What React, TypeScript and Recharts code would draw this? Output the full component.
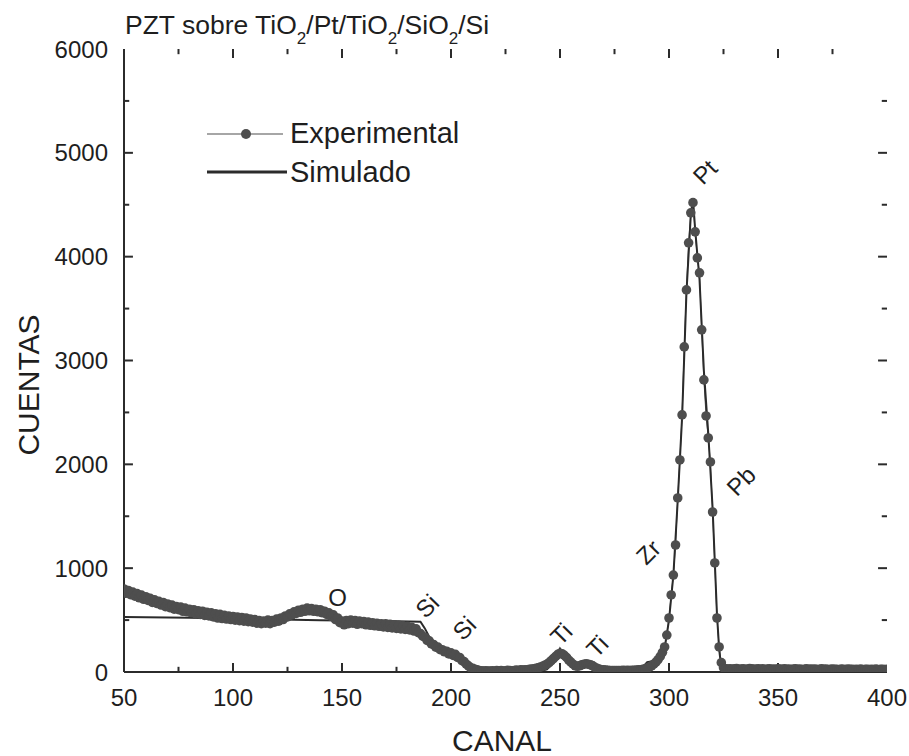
import { LineChart, Line, XAxis, YAxis, ReferenceDot, ReferenceLine } from 'recharts';

// Espectro RBS: PZT sobre TiO2/Pt/TiO2/SiO2/Si
const FIRST_CANAL = 50;

// cuentas experimentales, un valor por canal (50..400)
const expCuentas = [
  800, 760, 785, 745, 770, 730, 755, 715, 740, 700, // 50
  725, 690, 710, 670, 695, 660, 680, 645, 670, 630, // 60
  655, 620, 645, 605, 630, 600, 625, 585, 615, 580, // 70
  605, 570, 600, 560, 590, 555, 585, 545, 575, 540, // 80
  570, 530, 560, 520, 555, 515, 545, 510, 540, 505, // 90
  535, 500, 530, 495, 525, 490, 520, 485, 510, 480, // 100
  505, 470, 495, 465, 490, 470, 500, 465, 495, 480, // 110
  510, 490, 520, 505, 540, 530, 560, 550, 580, 565, // 120
  595, 575, 605, 585, 615, 590, 610, 585, 605, 580, // 130
  600, 570, 585, 555, 570, 535, 550, 505, 520, 475, // 140
  490, 455, 495, 465, 500, 470, 495, 460, 490, 465, // 150
  485, 455, 480, 450, 475, 445, 470, 440, 465, 435, // 160
  465, 430, 460, 425, 455, 420, 450, 415, 445, 410, // 170
  440, 405, 430, 395, 415, 380, 370, 345, 335, 305, // 180
  300, 270, 265, 240, 240, 215, 215, 195, 200, 175, // 190
  185, 160, 170, 140, 140, 110, 100, 75, 60, 40, // 200
  35, 25, 20, 15, 12, 10, 12, 8, 10, 12, // 210
  10, 14, 12, 15, 10, 12, 16, 14, 12, 15, // 220
  18, 15, 20, 18, 22, 20, 25, 28, 30, 35, // 230
  40, 48, 55, 65, 75, 90, 110, 130, 150, 170, // 240
  180, 175, 160, 140, 115, 95, 75, 60, 55, 60, // 250
  70, 75, 80, 75, 70, 60, 45, 35, 28, 22, // 260
  20, 18, 16, 15, 15, 14, 15, 14, 15, 16, // 270
  15, 16, 15, 17, 16, 18, 20, 22, 25, 30, // 280
  38, 48, 60, 75, 95, 120, 150, 190, // 290
  241, 356, 520, 742, 934, 1223, 1676, 2042, 2476, 3131, 3680, 4133, 4422, 4520, // 298
  4239, 3988, 3844, 3295, 2813, 2466, 2254, 2023, 1541, 1050, 520, 241, 90, 40, // 312
  30, 28, 32, 26, 30, 34, 27, 29, 31, 25, // 326
  28, 33, 30, 26, 29, 31, 27, 30, 24, 28, // 336
  32, 27, 29, 25, 30, 28, 26, 31, 27, 29, // 346
  24, 28, 30, 26, 29, 23, 27, 30, 25, 28, // 356
  26, 29, 24, 27, 30, 25, 28, 23, 26, 29, // 366
  25, 27, 22, 28, 26, 24, 29, 25, 27, 23, // 376
  26, 24, 28, 22, 27, 25, 23, 26, 24, 28, // 386
  22, 25, 27, 23, 26, // 396
];

// simulación
const simCanal = [
  50, 80, 110, 140, 170, 186, 188, 190, 192, 195, 200, 204, 207, 210, 213, 216,
  240, 244, 247, 250, 252, 254, 257, 260, 263, 266, 269, 272, 286, 288, 290, 293,
  296, 298, 300, 302, 304, 306, 308, 310, 311, 312, 314, 316, 318, 320, 322, 323,
  324, 326, 400,
];
const simCuentas = [
  530, 522, 510, 498, 490, 485, 420, 340, 280, 230, 185, 150, 100, 40, 10, 3,
  3, 25, 90, 225, 160, 80, 40, 55, 60, 35, 10, 3, 3, 50, 95, 105,
  130, 230, 500, 930, 1650, 2450, 3650, 4400, 4560, 4260, 3780, 2900, 2300, 1580, 560, 220,
  40, 5, 5,
];

const labelText = ['O', 'Si', 'Si', 'Ti', 'Ti', 'Zr', 'Pt', 'Pb'];
const labelCanal = [148, 189, 206, 250.5, 267, 290.5, 316.5, 333];
const labelCuentas = [722, 636, 424, 366, 250, 1156, 4817, 1840];

const xLabelTicks = [50, 100, 150, 200, 250, 300, 350, 400];
const xMinorTicks = [75, 125, 175, 225, 275, 325, 375];
const yLabelTicks = [0, 1000, 2000, 3000, 4000, 5000, 6000];
const yMinorTicks = [500, 1500, 2500, 3500, 4500, 5500];

const X_MIN = 50;
const X_MAX = 400;
const Y_MIN = 0;
const Y_MAX = 6000;
// longitud de las marcas hacia dentro, en unidades de datos
const X_TICK_MAJOR = 87;
const X_TICK_MINOR = 50;
const Y_TICK_MAJOR = 4.1;
const Y_TICK_MINOR = 2.4;

const expData = expCuentas.map((v, i) => ({ canal: FIRST_CANAL + i, cuentas: v }));
const simData = simCanal.map((c, i) => ({ canal: c, cuentas: simCuentas[i] }));

const INK = '#2b2b2b';
const DOT = '#4e4e4e';
const FONT = '"Liberation Sans", Arial, Helvetica, sans-serif';

function BottomTick({ x, y, payload }: any) {
  return (
    <text x={x} y={y + 34} textAnchor="middle" fontSize={24} fontFamily={FONT} fill="#1e1e1e">
      {payload.value}
    </text>
  );
}

function LeftTick({ x, y, payload }: any) {
  return (
    <text x={x - 16} y={y} dy="0.36em" textAnchor="end" fontSize={24} fontFamily={FONT} fill="#1e1e1e">
      {payload.value}
    </text>
  );
}

function PeakLabel({ viewBox, value }: any) {
  const { x, y } = viewBox;
  return (
    <text
      x={x}
      y={y}
      dy="0.36em"
      textAnchor="middle"
      fontSize={24}
      fontFamily={FONT}
      fill="#1e1e1e"
      transform={value === 'O' ? undefined : `rotate(-45 ${x} ${y})`}
    >
      {value}
    </text>
  );
}

function tickSegments() {
  const segs: { x1: number; y1: number; x2: number; y2: number }[] = [];
  xLabelTicks.slice(1, -1).forEach(t => {
    segs.push({ x1: t, y1: Y_MIN, x2: t, y2: Y_MIN + X_TICK_MAJOR });
    segs.push({ x1: t, y1: Y_MAX, x2: t, y2: Y_MAX - X_TICK_MAJOR });
  });
  xMinorTicks.forEach(t => {
    segs.push({ x1: t, y1: Y_MIN, x2: t, y2: Y_MIN + X_TICK_MINOR });
    segs.push({ x1: t, y1: Y_MAX, x2: t, y2: Y_MAX - X_TICK_MINOR });
  });
  yLabelTicks.slice(1, -1).forEach(t => {
    segs.push({ x1: X_MIN, y1: t, x2: X_MIN + Y_TICK_MAJOR, y2: t });
    segs.push({ x1: X_MAX, y1: t, x2: X_MAX - Y_TICK_MAJOR, y2: t });
  });
  yMinorTicks.forEach(t => {
    segs.push({ x1: X_MIN, y1: t, x2: X_MIN + Y_TICK_MINOR, y2: t });
    segs.push({ x1: X_MAX, y1: t, x2: X_MAX - Y_TICK_MINOR, y2: t });
  });
  return segs;
}

export default function App() {
  return (
    <div style={{ position: 'absolute', left: 0, top: 0, width: 909, height: 756, background: '#fff' }}>
      <LineChart width={909} height={756} margin={{ top: 49, right: 22, left: 0, bottom: 0 }}>
        <XAxis
          dataKey="canal"
          type="number"
          domain={[X_MIN, X_MAX]}
          ticks={xLabelTicks}
          interval={0}
          height={84}
          tickSize={0}
          tickMargin={0}
          tick={<BottomTick />}
          tickLine={false}
          axisLine={{ stroke: INK, strokeWidth: 2 }}
          allowDataOverflow
        />
        <XAxis
          xAxisId="top"
          orientation="top"
          dataKey="canal"
          type="number"
          domain={[X_MIN, X_MAX]}
          height={0}
          tick={false}
          tickLine={false}
          axisLine={{ stroke: INK, strokeWidth: 2 }}
        />
        <YAxis
          type="number"
          domain={[Y_MIN, Y_MAX]}
          ticks={yLabelTicks}
          interval={0}
          width={124}
          tickSize={0}
          tickMargin={0}
          tick={<LeftTick />}
          tickLine={false}
          axisLine={{ stroke: INK, strokeWidth: 2 }}
          allowDataOverflow
        />
        <YAxis
          yAxisId="right"
          orientation="right"
          type="number"
          domain={[Y_MIN, Y_MAX]}
          width={0}
          tick={false}
          tickLine={false}
          axisLine={{ stroke: INK, strokeWidth: 2 }}
        />
        {tickSegments().map((s, i) => (
          <ReferenceLine
            key={'t' + i}
            segment={[{ x: s.x1, y: s.y1 }, { x: s.x2, y: s.y2 }]}
            stroke={INK}
            strokeWidth={2}
            ifOverflow="visible"
          />
        ))}
        <Line
          data={expData}
          dataKey="cuentas"
          type="linear"
          stroke={DOT}
          strokeWidth={1}
          dot={{ r: 4.8, fill: DOT, stroke: 'none' }}
          isAnimationActive={false}
        />
        <Line
          data={simData}
          dataKey="cuentas"
          type="linear"
          stroke={INK}
          strokeWidth={2}
          dot={false}
          isAnimationActive={false}
        />
        {labelText.map((t, i) => (
          <ReferenceDot
            key={i}
            x={labelCanal[i]}
            y={labelCuentas[i]}
            r={0}
            stroke="none"
            fill="none"
            label={<PeakLabel value={t} />}
          />
        ))}
      </LineChart>
      <svg width={909} height={756} style={{ position: 'absolute', left: 0, top: 0, pointerEvents: 'none' }}>
        <text x={125} y={34} fontSize={26.5} fontFamily={FONT} fill="#1e1e1e">
          PZT sobre TiO<tspan fontSize={17} dy={10}>2</tspan>
          <tspan dy={-10}>/Pt/TiO</tspan>
          <tspan fontSize={17} dy={10}>2</tspan>
          <tspan dy={-10}>/SiO</tspan>
          <tspan fontSize={17} dy={10}>2</tspan>
          <tspan dy={-10}>/Si</tspan>
        </text>
        <text x={502} y={751} textAnchor="middle" fontSize={30} fontFamily={FONT} fill="#1e1e1e">
          CANAL
        </text>
        <text
          x={28}
          y={385}
          textAnchor="middle"
          dominantBaseline="central"
          fontSize={30}
          fontFamily={FONT}
          fill="#1e1e1e"
          transform="rotate(-90 28 385)"
        >
          CUENTAS
        </text>
        <line x1={207} y1={134} x2={283} y2={134} stroke={DOT} strokeWidth={1.2} />
        <circle cx={246} cy={134} r={5} fill={DOT} />
        <text x={290} y={143} fontSize={29} fontFamily={FONT} fill="#1e1e1e">
          Experimental
        </text>
        <line x1={207} y1={172} x2={287} y2={172} stroke={INK} strokeWidth={3} />
        <text x={290} y={182} fontSize={29} fontFamily={FONT} fill="#1e1e1e">
          Simulado
        </text>
      </svg>
    </div>
  );
}
